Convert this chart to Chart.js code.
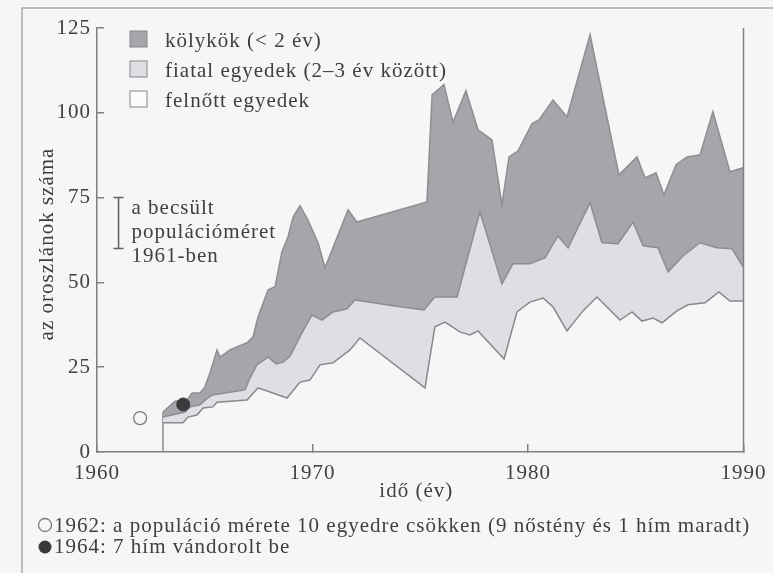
<!DOCTYPE html>
<html lang="hu">
<head>
<meta charset="utf-8">
<title>Oroszlánok száma</title>
<script src="https://cdn.jsdelivr.net/npm/chart.js@4.4.1/dist/chart.umd.min.js"></script>
<style>
    html, body { margin: 0; padding: 0; background: #f6f6f7; }
    canvas { display: block; }
</style>
</head>
<body>
<canvas id="grafikon" width="773" height="573"></canvas>
<script>
// Összes oroszlán (a kölykök sávjának teteje)
const evekOsszes = [1963.06, 1963.62, 1964.18, 1964.41, 1964.78, 1965.01, 1965.24, 1965.57, 1965.71, 1966.17,
    1966.96, 1967.24, 1967.47, 1967.94, 1968.26, 1968.58, 1968.86, 1969.10, 1969.42, 1969.79,
    1970.26, 1970.58, 1971.65, 1972.06, 1975.31, 1975.55, 1976.10, 1976.52, 1977.12, 1977.68,
    1978.33, 1978.79, 1979.12, 1979.54, 1980.19, 1980.51, 1981.16, 1981.81, 1982.88, 1984.22,
    1985.06, 1985.43, 1985.94, 1986.31, 1986.87, 1987.38, 1987.98, 1988.58, 1989.37, 1989.98];
const osszes = [11.8, 15.0, 15.3, 17.4, 17.4, 19.2, 23.3, 30.1, 28.0, 30.1,
    32.2, 33.9, 39.8, 47.8, 48.7, 59.0, 63.4, 69.3, 72.6, 68.4,
    61.7, 54.3, 71.4, 67.8, 73.7, 105.3, 108.3, 97.3, 106.5, 95.0,
    92.0, 72.9, 87.0, 88.8, 96.8, 97.9, 103.8, 98.8, 123.0, 81.7,
    87.0, 80.8, 82.3, 75.8, 84.7, 87.0, 87.6, 100.3, 82.6, 83.8];

// Felnőttek + fiatalok együtt
const evekFiatal = [1963.06, 1964.08, 1964.32, 1964.78, 1965.01, 1965.34, 1966.87, 1967.10, 1967.42, 1967.94,
    1968.31, 1968.63, 1968.96, 1969.51, 1969.98, 1970.44, 1970.95, 1971.60, 1971.97, 1974.06,
    1975.17, 1975.68, 1976.71, 1977.77, 1978.79, 1979.30, 1980.09, 1980.79, 1981.39, 1981.86,
    1982.88, 1983.43, 1984.18, 1984.87, 1985.34, 1986.03, 1986.50, 1987.19, 1987.98, 1988.77,
    1989.47, 1989.98];
const felnottEsFiatal = [10.3, 11.8, 13.3, 13.9, 15.3, 16.8, 18.3, 21.8, 25.7, 28.0,
    26.0, 26.5, 28.3, 35.1, 40.4, 38.9, 41.3, 42.2, 44.8, 42.8,
    41.9, 45.7, 45.7, 70.8, 49.6, 55.5, 55.5, 57.2, 63.7, 60.2,
    73.5, 61.7, 61.4, 67.8, 60.8, 60.2, 53.1, 57.8, 61.7, 60.2,
    59.9, 54.6];

// Felnőttek
const evekFelnott = [1963.06, 1963.99, 1964.22, 1964.64, 1964.92, 1965.38, 1965.57, 1966.96, 1967.47, 1968.03,
    1968.82, 1969.42, 1969.88, 1970.35, 1970.95, 1971.74, 1972.20, 1975.22, 1975.68, 1976.15,
    1976.84, 1977.31, 1977.68, 1978.89, 1979.49, 1980.09, 1980.70, 1981.16, 1981.81, 1982.55,
    1983.20, 1984.27, 1984.83, 1985.29, 1985.80, 1986.22, 1986.91, 1987.42, 1988.21, 1988.86,
    1989.37, 1989.98];
const felnott = [8.6, 8.6, 10.3, 10.9, 13.0, 13.3, 14.7, 15.3, 18.9, 17.7,
    15.9, 20.6, 21.2, 25.7, 26.3, 30.1, 33.6, 18.9, 36.9, 38.3,
    35.4, 34.5, 35.7, 27.4, 41.3, 44.2, 45.4, 42.8, 35.7, 41.6,
    45.7, 38.9, 41.3, 38.6, 39.5, 38.1, 41.6, 43.4, 44.0, 47.2,
    44.5, 44.5];

// Becslés 1961-re, és a két megjelölt esemény
const becslesEv = 1961;
const becsles = [60, 75];
const esemenyEvek = [1962, 1964];
const esemenyErtekek = [10, 14];

const yTickek = [0, 25, 50, 75, 100, 125];
const xTickek = [1960, 1970, 1980, 1990];

const szovegSzin = '#404042';
const tengelySzin = '#808084';
const betu = '"Liberation Serif", "DejaVu Serif", serif';

const pontok = (xs, ys) => xs.map((x, i) => ({ x: x, y: ys[i] }));

/* =========================
   HÁTTÉR ÉS KERET
========================== */
const hatter = {
    id: 'hatter',
    beforeDraw(chart) {
        const { ctx, width, height } = chart;
        ctx.save();
        ctx.fillStyle = '#f6f6f7';
        ctx.fillRect(0, 0, width, height);
        ctx.strokeStyle = '#a8a8ab';
        ctx.lineWidth = 1.5;
        ctx.beginPath();
        ctx.moveTo(22, height);
        ctx.lineTo(22, 8);
        ctx.lineTo(width, 8);
        ctx.stroke();
        ctx.restore();
        ctx.letterSpacing = '1px';
    }
};

/* =========================
   FELIRATOK, JELMAGYARÁZAT
========================== */
const feliratok = {
    id: 'feliratok',
    afterDraw(chart) {
        const { ctx, chartArea } = chart;
        const xs = chart.scales.x;
        const ys = chart.scales.y;
        ctx.save();
        ctx.letterSpacing = '1px';

        // jobb oldali keretvonal
        ctx.strokeStyle = tengelySzin;
        ctx.lineWidth = 1.5;
        ctx.beginPath();
        ctx.moveTo(chartArea.right, chartArea.top);
        ctx.lineTo(chartArea.right, chartArea.bottom);
        ctx.stroke();

        ctx.font = '21px ' + betu;
        ctx.fillStyle = szovegSzin;
        ctx.textAlign = 'left';
        ctx.textBaseline = 'alphabetic';

        // jelmagyarázat: kölykök, fiatalok, felnőttek
        [2, 1, 0].forEach((idx, i) => {
            const ds = chart.data.datasets[idx];
            const alap = chartArea.top + 19 + i * 30;
            ctx.fillStyle = ds.backgroundColor;
            ctx.fillRect(chartArea.left + 33, alap - 16, 17, 16);
            ctx.strokeStyle = '#85858a';
            ctx.lineWidth = 1;
            ctx.strokeRect(chartArea.left + 33, alap - 16, 17, 16);
            ctx.fillStyle = szovegSzin;
            ctx.fillText(ds.label, chartArea.left + 68, alap);
        });

        // a becslés felirata
        const bx = xs.getPixelForValue(becslesEv) + 13;
        const by = ys.getPixelForValue(becsles[1]);
        ['a becsült', 'populációméret', '1961-ben'].forEach((sor, i) => {
            ctx.fillText(sor, bx, by + 16 + i * 24);
        });

        // tengelycímek
        ctx.textAlign = 'center';
        ctx.fillText('idő (év)', (chartArea.left + chartArea.right) / 2 - 4, chartArea.bottom + 45);
        ctx.save();
        ctx.translate(chartArea.left - 44, (chartArea.top + chartArea.bottom) / 2 + 4);
        ctx.rotate(-Math.PI / 2);
        ctx.fillText('az oroszlánok száma', 0, 0);
        ctx.restore();

        // lábjegyzet
        ctx.textAlign = 'left';
        ctx.fillText('1962: a populáció mérete 10 egyedre csökken (9 nőstény és 1 hím maradt)', 54, 532);
        ctx.fillText('1964: 7 hím vándorolt be', 54, 553);
        ctx.lineWidth = 1.3;
        ctx.strokeStyle = '#7a7a7e';
        ctx.fillStyle = '#f6f6f7';
        ctx.beginPath();
        ctx.arc(45, 525, 6.5, 0, Math.PI * 2);
        ctx.fill();
        ctx.stroke();
        ctx.fillStyle = '#3a3a3c';
        ctx.beginPath();
        ctx.arc(45, 547, 6.5, 0, Math.PI * 2);
        ctx.fill();

        ctx.restore();
    }
};

const ctxGrafikon = document.getElementById('grafikon');

new Chart(ctxGrafikon, {
    type: 'line',
    data: {
        datasets: [
            {
                label: 'felnőtt egyedek',
                data: pontok(evekFelnott, felnott),
                borderColor: '#88888d',
                backgroundColor: '#fbfbfc',
                borderWidth: 1.5,
                fill: false
            },
            {
                label: 'fiatal egyedek (2–3 év között)',
                data: pontok(evekFiatal, felnottEsFiatal),
                borderColor: '#8c8c91',
                backgroundColor: '#dedfe4',
                borderWidth: 1.5,
                fill: '-1'
            },
            {
                label: 'kölykök (< 2 év)',
                data: pontok(evekOsszes, osszes),
                borderColor: '#8e8e93',
                backgroundColor: '#a5a6aa',
                borderWidth: 1.5,
                fill: '-1'
            },
            {
                // a sávok bal széle
                label: 'szél',
                data: [{ x: evekOsszes[0], y: 0 }, { x: evekOsszes[0], y: osszes[0] }],
                borderColor: '#88888d',
                borderWidth: 1.5,
                fill: false
            },
            {
                label: 'becslés 1961',
                data: becsles.map(v => ({ x: becslesEv, y: v })),
                borderColor: '#606064',
                borderWidth: 1.5,
                pointStyle: 'line',
                pointRadius: 5,
                pointBorderColor: '#606064',
                pointBorderWidth: 1.5,
                fill: false
            },
            {
                label: '1962',
                data: [{ x: esemenyEvek[0], y: esemenyErtekek[0] }],
                showLine: false,
                pointRadius: 6.5,
                pointBackgroundColor: '#f6f6f7',
                pointBorderColor: '#7a7a7e',
                pointBorderWidth: 1.3,
                order: -1
            },
            {
                label: '1964',
                data: [{ x: esemenyEvek[1], y: esemenyErtekek[1] }],
                showLine: false,
                pointRadius: 6.5,
                pointBackgroundColor: '#3a3a3c',
                pointBorderColor: '#3a3a3c',
                pointBorderWidth: 1,
                order: -1
            }
        ]
    },
    options: {
        responsive: false,
        animation: false,
        events: [],
        elements: {
            line: { tension: 0 },
            point: { radius: 0 }
        },
        layout: {
            padding: { left: 0, right: 29.5, top: 28, bottom: 91 }
        },
        plugins: {
            legend: { display: false },
            tooltip: { enabled: false },
            filler: { propagate: false }
        },
        scales: {
            x: {
                type: 'linear',
                min: 1960,
                max: 1990,
                afterBuildTicks: s => { s.ticks = xTickek.map(v => ({ value: v })); },
                afterFit: s => {
                    s.height = 30;
                    s.paddingLeft = 0;
                    s.paddingRight = 0;
                },
                border: { color: tengelySzin, width: 1.5 },
                grid: { drawOnChartArea: false, tickLength: -8, color: tengelySzin, lineWidth: 1.5 },
                ticks: {
                    color: szovegSzin,
                    padding: 17,
                    maxRotation: 0,
                    callback: v => String(v),
                    font: { family: betu, size: 21 }
                }
            },
            y: {
                min: 0,
                max: 125,
                afterBuildTicks: s => { s.ticks = yTickek.map(v => ({ value: v })); },
                afterFit: s => {
                    s.width = 97;
                    s.paddingTop = 0;
                    s.paddingBottom = 0;
                },
                border: { color: tengelySzin, width: 1.5 },
                grid: { drawOnChartArea: false, tickLength: -7, color: tengelySzin, lineWidth: 1.5 },
                ticks: {
                    color: szovegSzin,
                    padding: 13,
                    font: { family: betu, size: 21 }
                }
            }
        }
    },
    plugins: [hatter, feliratok]
});
</script>
</body>
</html>
